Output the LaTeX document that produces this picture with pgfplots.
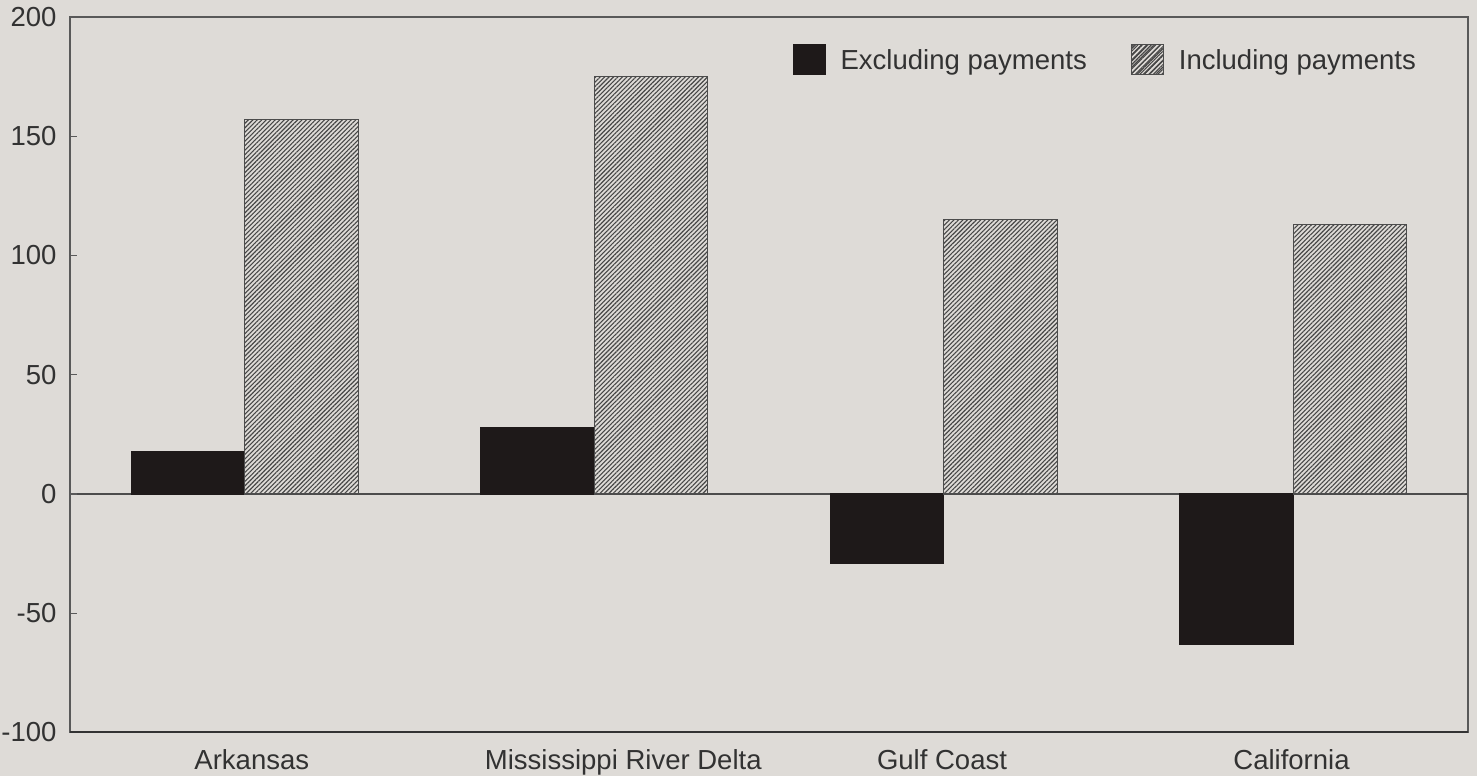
\documentclass[border=0pt]{standalone}
\usepackage{pgfplots}
\pgfplotsset{compat=1.18}
\usepackage{fontspec}
\setmainfont{Liberation Sans}
\usetikzlibrary{patterns.meta}
\definecolor{bg}{RGB}{222,219,215}
\definecolor{barblack}{RGB}{30,25,25}
\definecolor{txt}{RGB}{50,50,50}
\definecolor{hatch}{RGB}{70,70,70}
\pagecolor{bg}
\def\px{0.3636pt}

\begin{document}
\begin{tikzpicture}
\begin{axis}[
  scale only axis,
  width=508pt, height=260pt,
  xmin=-0.5, xmax=3.5,
  ymin=-100, ymax=200,
  ytick={-100,-50,0,50,100,150,200},
  % label positions as placed in the original (slightly off-centre)
  xtick={0.02,1.083,1.995,2.995},
  xticklabels={Arkansas, Mississippi River Delta, Gulf Coast, California},
  x tick style={draw=none},
  y tick style={draw=gray!70!black, line width=0.5pt},
  tick align=inside,
  major tick length=2.5pt,
  ytick pos=left,
  /pgf/number format/assume math mode=true,
  tick label style={font=\fontsize{10}{12}\selectfont, text=txt},
  yticklabel style={xshift=-1.4pt},
  axis line style={draw=gray!70!black, line width=0.5pt},
  ybar=0pt, bar width=0.325,
  extra y ticks={0},
  extra y tick labels={},
  extra y tick style={grid=major, major grid style={draw=gray!60!black, line width=0.5pt}, tick style={draw=none}},
  legend columns=2,
  legend style={at={(rel axis cs:0.973,0.971)}, anchor=north east,
    draw=none, fill=none, font=\fontsize{10}{12}\selectfont, text=txt,
    /tikz/every even column/.append style={column sep=14pt}},
]
\addplot[fill=barblack, draw=barblack,
  legend image code/.code={\draw[fill=barblack, draw=barblack] (0pt,-4.5pt) rectangle (11.6pt,6.3pt);
    \path (15pt,0pt);}]
  coordinates {(0,18) (1,28) (2,-29) (3,-63)};
\addplot[fill=bg, draw=gray!60!black, line width=0.4pt,
  postaction={pattern={Lines[angle=45, distance=1.15pt, line width=0.4pt]}, pattern color=hatch},
  legend image code/.code={\draw[fill=bg, draw=gray!60!black, line width=0.4pt,
    postaction={pattern={Lines[angle=45, distance=1.6pt, line width=0.45pt]}, pattern color=hatch}]
    (0pt,-4.5pt) rectangle (11.6pt,6.3pt);
    \path (15pt,0pt);}]
  coordinates {(0,157) (1,175) (2,115) (3,113)};
\legend{Excluding payments, Including payments}
\draw[draw=gray!40!black, line width=0.8pt] (rel axis cs:0,0) -- (rel axis cs:1,0);
\end{axis}
\pgfresetboundingbox
\path[use as bounding box]
  ([xshift=-70*\px, yshift=-43*\px]current axis.south west)
  rectangle ([xshift=9*\px, yshift=17*\px]current axis.north east);
\end{tikzpicture}
\end{document}
